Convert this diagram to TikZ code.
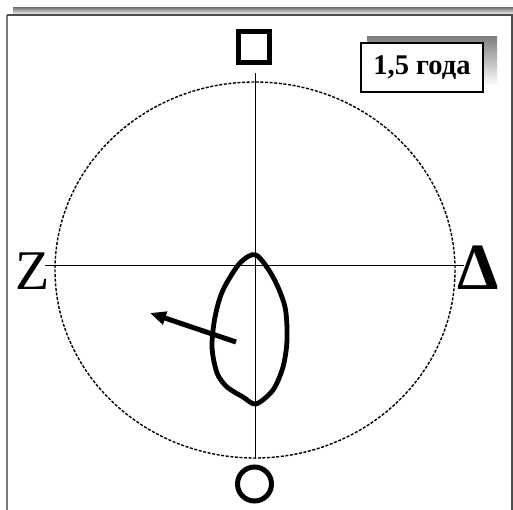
\documentclass[tikz,border=0pt]{standalone}
\usepackage{fontspec}
\setmainfont{Liberation Serif}
\usetikzlibrary{arrows.meta}
\definecolor{ink}{HTML}{000000}
\definecolor{frame}{HTML}{4D4D4D}
\definecolor{shade}{HTML}{A8A8A8}
\definecolor{rim}{HTML}{7A7A7A}

\begin{document}
\begin{tikzpicture}[x=1pt, y=-1pt,
    color=ink,
    axis/.style={line width=1pt, ink},
    orbit/.style={line width=1.4pt, dash pattern=on 3pt off 1.6pt},
    pole/.style={line width=5pt, ink, inner sep=0pt},
    tag/.style={font=\fontsize{56}{60}\selectfont, inner sep=0pt},
    >={Triangle[length=16pt,width=13pt]}]
  % fixed 513 x 510 canvas
  \path[use as bounding box] (0,0) rectangle (513,510);

  % ================= outer frame with shadow =================
  \fill[shade] (13,8) rectangle (513,15);
  \draw[rim, line width=2pt] (7,15) -- (7,510);
  \draw[frame, line width=1.5pt] (7,15) -- (512,15) -- (512,510);

  % ================= period label =================
  \fill[shade] (367,37) rectangle (497,86);
  \node[draw, fill=white, line width=1.3pt, minimum width=122pt, minimum height=49pt,
        font=\fontsize{28.5}{32}\selectfont\bfseries] (period) at (422,67.5) {1,5 года};

  % ================= poles =================
  \node[pole, draw, rectangle, minimum width=31pt, minimum height=31pt] (top) at (254,47) {};
  \node[pole, draw, circle, minimum size=34pt] (bottom) at (254.5,484) {};
  \node[tag] (left) at (33,271) {Z};
  \node[tag, font=\fontsize{66}{70}\selectfont\bfseries] (right) at (478.5,268) {Δ};

  % ================= axes =================
  \coordinate (n) at (255,73);
  \coordinate (s) at (255,459);
  \coordinate (w) at (45,265);
  \coordinate (e) at (464,265);
  \draw[axis] (n) -- (s);
  \draw[axis] (w) -- (e);

  % ================= dashed circle =================
  \draw[orbit] (255,270) ellipse [x radius=200, y radius=188];

  % ================= loop =================
  \draw[line width=4.8pt, line join=round]
    plot[smooth cycle, tension=0.5] coordinates {
      (256,255) (273,277) (285,307) (287,340) (283,367) (273,390) (256,404)
      (243,397) (227,387) (217,373) (212,347) (215,317) (223,290) (240,263)};

  % ================= arrow =================
  \coordinate (tail) at (236,342);
  \coordinate (tip) at (150,313);
  \draw[line width=5pt, ->] (tail) -- (tip);
\end{tikzpicture}
\end{document}
